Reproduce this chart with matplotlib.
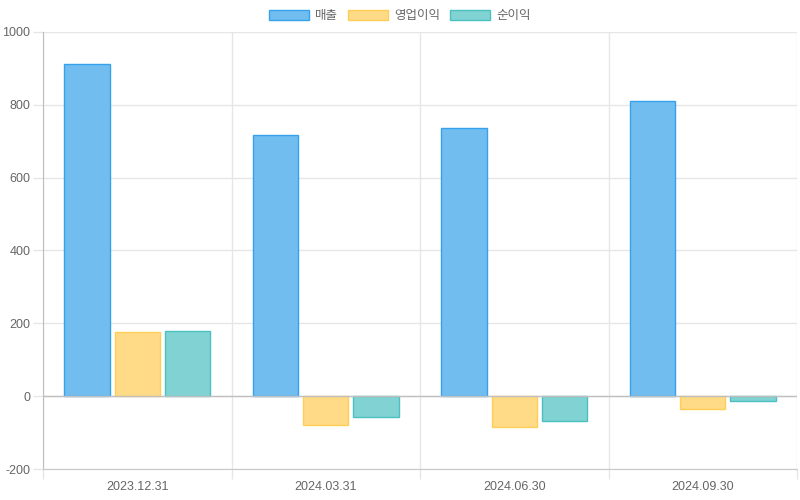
import matplotlib
matplotlib.use("Agg")
import matplotlib.pyplot as plt
from matplotlib.patches import Patch
import numpy as np

plt.rcParams['font.family'] = ['Liberation Sans', 'Noto Sans CJK KR', 'DejaVu Sans']

categories = ['2023.12.31', '2024.03.31', '2024.06.30', '2024.09.30']
series_names = ['매출', '영업이익', '순이익']
revenue = [911, 717, 736, 810]
op_income = [176, -78, -86, -36]
net_income = [179, -56, -67, -14]
yticks = [-200, 0, 200, 400, 600, 800, 1000]

fills = ['#72bdf0', '#ffdb87', '#81d2d2']
edges = ['#36a2eb', '#ffce56', '#4bc0c0']

fig = plt.figure(figsize=(8, 5), dpi=100)
ax = fig.add_axes([43/800, 1-469/500, (797-43)/800, (469-32)/500])

x = np.arange(len(categories))
slot = 0.8 / 3
bw = slot * 0.9
for i, vals in enumerate([revenue, op_income, net_income]):
    ax.bar(x + (i - 1) * slot, vals, width=bw, color=fills[i], edgecolor=edges[i],
           linewidth=1.0, zorder=3, label=series_names[i])

ax.set_xlim(-0.5, len(categories) - 0.5)
ax.set_ylim(-200, 1000)
ax.set_yticks(yticks)
ax.set_yticklabels([str(v) for v in yticks])
ax.set_xticks(x)
ax.set_xticklabels(categories)
ax.set_xticks(np.arange(len(categories) + 1) - 0.5, minor=True)

grid_c = '#e6e6e6'
for yv in yticks:
    ax.axhline(yv, color=grid_c, lw=1, zorder=1)
for xv in np.arange(len(categories) + 1) - 0.5:
    ax.axvline(xv, color=grid_c, lw=1, zorder=1)
ax.axhline(0, color='#c0c0c0', lw=1, zorder=4)

for s in ['top', 'right']:
    ax.spines[s].set_visible(False)
ax.spines['left'].set_color('#bdbdbd')
ax.spines['bottom'].set_color('#c8c8c8')

ax.tick_params(axis='x', which='major', length=0, pad=9, labelsize=9, labelcolor='#666666')
ax.tick_params(axis='x', which='minor', length=7.2, color=grid_c, width=1)
ax.tick_params(axis='y', length=7.2, color=grid_c, width=1, pad=2, labelsize=9, labelcolor='#666666')

handles = [Patch(facecolor=fills[i], edgecolor=edges[i], linewidth=1.0) for i in range(3)]
fig.legend(handles, series_names, loc='center', bbox_to_anchor=(0.5, 1 - 16/500), ncol=3,
           frameon=False, fontsize=9, handlelength=3.2, handleheight=0.95,
           handletextpad=0.5, columnspacing=0.8, labelcolor='#666666')

fig.savefig('out.png', dpi=100)
